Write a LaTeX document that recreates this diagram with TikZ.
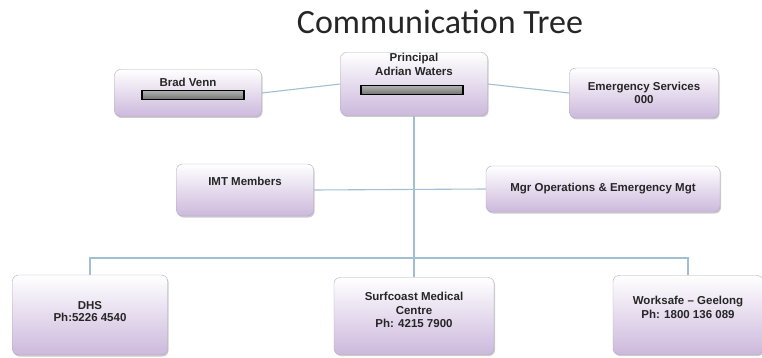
\documentclass[tikz,border=0pt]{standalone}
\usepackage{fontspec}
\setmainfont{Liberation Sans}
\newfontfamily\titlefont{Carlito}
\usetikzlibrary{shadows}
\definecolor{linkblue}{RGB}{160,192,210}
\definecolor{boxedge}{RGB}{175,172,188}
\definecolor{lavender}{RGB}{204,184,220}

\begin{document}
\begin{tikzpicture}[x=1pt,y=-1pt,
  box/.style={draw=boxedge, rounded corners=6pt, top color=white, bottom color=lavender,
    drop shadow={opacity=0.4, shadow xshift=1pt, shadow yshift=-1.5pt}, inner ysep=0pt,
    align=center, font=\bfseries\fontsize{11.5}{13.5}\selectfont, text=black!85},
  link/.style={draw=linkblue, line width=1.1pt},
  redact/.style={draw=black, line width=1.4pt, top color=black!30, bottom color=black!55,
    minimum width=102pt, minimum height=9pt, inner sep=0pt}]
\useasboundingbox (0,0) rectangle (762,358);
\node[font=\titlefont\fontsize{34}{38}\selectfont, text=black!85] (title) at (440,22) {Communication Tree};
\node[box, minimum width=147pt, minimum height=47pt] (brad) at (188,93) {Brad Venn\\[3pt]\strut};
\node[box, minimum width=147pt, minimum height=63pt] (principal) at (414,84) {Principal\\Adrian Waters\\\strut\\[8pt]\strut};
\node[box, minimum width=149pt, minimum height=50pt] (emerg) at (644,93) {Emergency Services\\000};
\node[box, minimum width=137pt, minimum height=52pt] (imt) at (245,190) {IMT Members\\\strut};
\node[box, minimum width=234pt, minimum height=46pt] (mgr) at (603,189) {Mgr Operations \& Emergency Mgt};
\node[box, minimum width=155pt, minimum height=80pt] (dhs) at (90,315) {DHS\\[-2pt]Ph:5226 4540\\[-11pt]\strut};
\node[box, minimum width=160pt, minimum height=77pt] (surf) at (414,316) {Surfcoast Medical\\Centre\\Ph: 4215 7900\\[-6pt]\strut};
\node[box, minimum width=150pt, minimum height=79pt] (work) at (688,315) {Worksafe -- Geelong\\Ph: 1800 136 089\\[-2.5pt]\strut};
\node[redact] (bradbar) at (193,95) {};
\node[redact] (princbar) at (412,90) {};
\coordinate (bus) at (414,258);
% connectors
\path[link] (brad.east) -- (principal.west);
\path[link] (principal.east) -- (emerg.west);
\path[link] (imt.east) -- (mgr.west);
\path[link] (principal.south) -- (bus);
\path[link] (dhs.north) |- (bus) -| (work.north);
\path[link] (bus) -- (surf.north);
\end{tikzpicture}
\end{document}
